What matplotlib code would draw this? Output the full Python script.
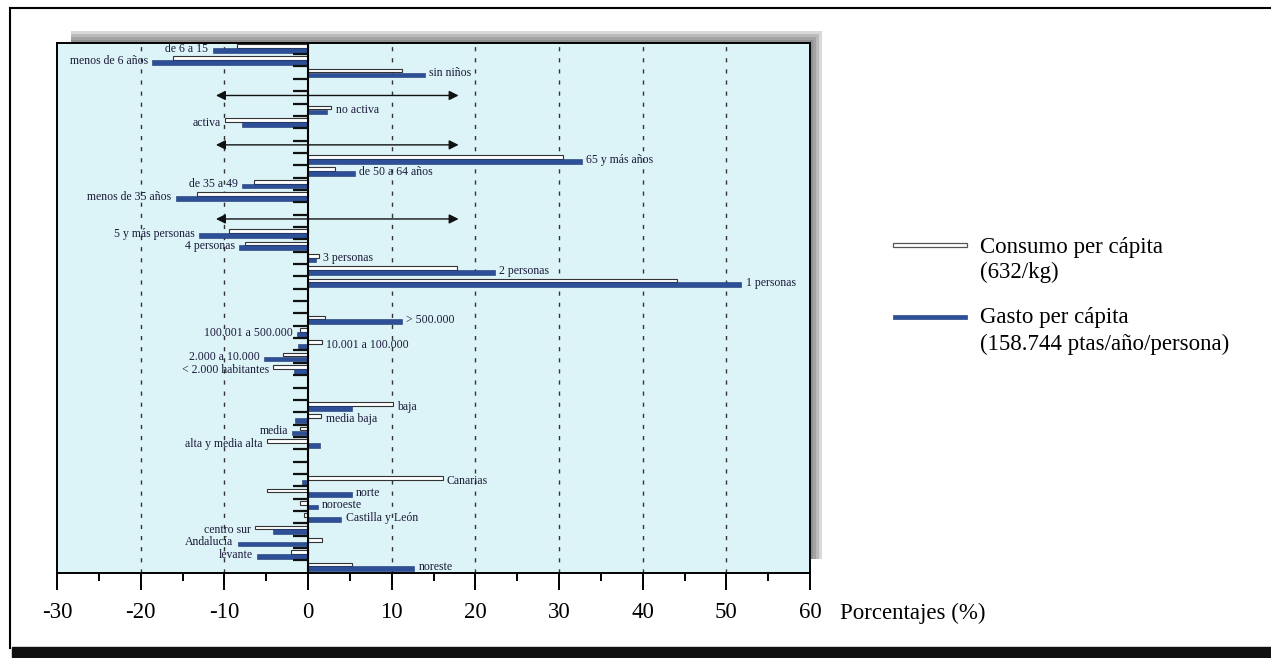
import matplotlib

matplotlib.use("Agg")
import matplotlib.pyplot as plt
from matplotlib.patches import Rectangle

plt.rcParams["font.family"] = ["Liberation Serif", "DejaVu Serif"]
plt.rcParams["axes.unicode_minus"] = False

# each group: category labels, consumo (white bar), gasto (blue bar), in %
hijos_labels = ["de 6 a 15", "menos de 6 años", "sin niños"]
hijos_consumo = [-8.5, -16.1, 11.2]
hijos_gasto = [-11.4, -18.6, 14.0]

actividad_labels = ["no activa", "activa"]
actividad_consumo = [2.8, -9.9]
actividad_gasto = [2.3, -7.9]

edad_labels = ["65 y más años", "de 50 a 64 años", "de 35 a 49", "menos de 35 años"]
edad_consumo = [30.5, 3.2, -6.5, -13.3]
edad_gasto = [32.7, 5.6, -7.9, -15.8]

hogar_labels = ["5 y más personas", "4 personas", "3 personas", "2 personas", "1 personas"]
hogar_consumo = [-9.5, -7.5, 1.3, 17.8, 44.1]
hogar_gasto = [-13.0, -8.2, 1.0, 22.3, 51.8]

habitat_labels = ["> 500.000", "100.001 a 500.000", "10.001 a 100.000",
                  "2.000 a 10.000", "< 2.000 habitantes"]
habitat_consumo = [2.0, -1.0, 1.7, -3.0, -4.2]
habitat_gasto = [11.2, -1.3, -1.2, -5.3, -1.7]

clase_labels = ["baja", "media baja", "media", "alta y media alta"]
clase_consumo = [10.1, 1.6, -1.0, -4.9]
clase_gasto = [5.2, -1.5, -1.9, 1.4]

region_labels = ["Canarias", "norte", "noroeste", "Castilla y León",
                 "centro sur", "Andalucía", "levante", "noreste"]
region_consumo = [16.1, -4.9, -0.9, -0.5, -6.3, 1.7, -2.0, 5.2]
region_gasto = [-0.7, 5.2, 1.2, 4.0, -4.2, -8.4, -6.1, 12.7]

groups = [
    (hijos_labels, hijos_consumo, hijos_gasto),
    (actividad_labels, actividad_consumo, actividad_gasto),
    (edad_labels, edad_consumo, edad_gasto),
    (hogar_labels, hogar_consumo, hogar_gasto),
    (habitat_labels, habitat_consumo, habitat_gasto),
    (clase_labels, clase_consumo, clase_gasto),
    (region_labels, region_consumo, region_gasto),
]
arrow_groups = 3  # double arrows only between the first four groups

BLUE = "#2c4f97"
BG = "#dcf3f7"
GAP = 2

# positions of each category (one slot each, 2 empty slots between groups)
labels, consumo, gasto, pos, gap_mid = [], [], [], [], []
p = 0
for i, (lab, c, g) in enumerate(groups):
    for j in range(len(lab)):
        labels.append(lab[j])
        consumo.append(c[j])
        gasto.append(g[j])
        pos.append(p)
        p += 1
    gap_mid.append(p - 1 + (GAP + 1) / 2)
    p += GAP
last = pos[-1]

fig = plt.figure(figsize=(12.71, 6.58), dpi=100)
W, H = 1271, 658

# outer frame
fig.add_artist(plt.Line2D([10 / W, 1.0], [1 - 8 / H, 1 - 8 / H], color="black", lw=1.5))
fig.add_artist(plt.Line2D([10 / W, 10 / W], [1 - 8 / H, 10 / H], color="black", lw=1.5))
fig.add_artist(Rectangle((12 / W, 1 / H), 1.0, 10 / H, color="#111111"))

ax_l, ax_r, ax_t, ax_b = 57, 810, 43, 573
# soft shadow peeking out above and right of the panel
for d in [12, 9, 6, 3]:
    fig.add_artist(Rectangle(((ax_l + 14) / W, (H - ax_b + 14) / H),
                             (ax_r - ax_l - 14 + d) / W, (ax_b - ax_t - 14 + d) / H,
                             facecolor="#444444", edgecolor="none", alpha=0.2, zorder=0))

ax = fig.add_axes([ax_l / W, 1 - ax_b / H, (ax_r - ax_l) / W, (ax_b - ax_t) / H], zorder=2)
ax.set_facecolor(BG)

hw, hb = 0.30, 0.38
ax.barh([q - 0.17 for q in pos], consumo, height=hw, color="white",
        edgecolor="#333333", linewidth=0.8, zorder=3)
ax.barh([q + 0.18 for q in pos], gasto, height=hb, color=BLUE,
        edgecolor="#1d3670", linewidth=0.4, zorder=3)

for q, lab, c, g in zip(pos, labels, consumo, gasto):
    hi, lo = max(c, g, 0), min(c, g, 0)
    if hi >= -lo:
        ax.text(hi + 0.5, q + 0.05, lab, ha="left", va="center", fontsize=8.5,
                color="#1b1b3a", zorder=5)
    else:
        ax.text(lo - 0.5, q + 0.05, lab, ha="right", va="center", fontsize=8.5,
                color="#1b1b3a", zorder=5)

# zero line and short separator ticks between category slots
ax.axvline(0, color="black", lw=1.5, zorder=4)
ax.hlines([q + 0.5 for q in range(last)], -1.8, 0, color="#111111", lw=1.6, zorder=4)

for x in [-20, -10, 10, 20, 30, 40, 50]:
    ax.axvline(x, color="#333333", lw=1.0, linestyle=(0, (3, 5)), zorder=1)

for m in gap_mid[:arrow_groups]:
    ax.annotate("", xy=(-11, m + 0.35), xytext=(18, m + 0.35),
                arrowprops=dict(arrowstyle="<|-|>", color="#111111", lw=1.0,
                                mutation_scale=14, shrinkA=0, shrinkB=0), zorder=4)

ax.set_xlim(-30, 60)
ax.set_ylim(last + 0.52, -0.4)
ax.set_yticks([])
ax.set_xticks(range(-30, 61, 10))
ax.set_xticks(range(-25, 60, 10), minor=True)
ax.tick_params(axis="x", which="major", length=12, width=1.4, pad=9, labelsize=16.5)
ax.tick_params(axis="x", which="minor", length=6, width=1.4)
for s in ax.spines.values():
    s.set_color("black")
    s.set_linewidth(1.4)

fig.text(840 / W, 1 - 613 / H, "Porcentajes (%)", fontsize=16.5, va="center", ha="left")

# legend
fig.add_artist(Rectangle((893 / W, 1 - 247 / H), 74 / W, 4 / H, facecolor="white",
                         edgecolor="#555555", lw=0.9))
fig.add_artist(Rectangle((893 / W, 1 - 319 / H), 74 / W, 4 / H, facecolor=BLUE,
                         edgecolor="#3b5a99", lw=0.6))
fig.text(980 / W, 1 - 247 / H, "Consumo per cápita", fontsize=16.5, va="center")
fig.text(980 / W, 1 - 272 / H, "(632/kg)", fontsize=16.5, va="center")
fig.text(980 / W, 1 - 318 / H, "Gasto per cápita", fontsize=16.5, va="center")
fig.text(980 / W, 1 - 344 / H, "(158.744 ptas/año/persona)", fontsize=16.5, va="center")

fig.savefig("out.png", dpi=100)
